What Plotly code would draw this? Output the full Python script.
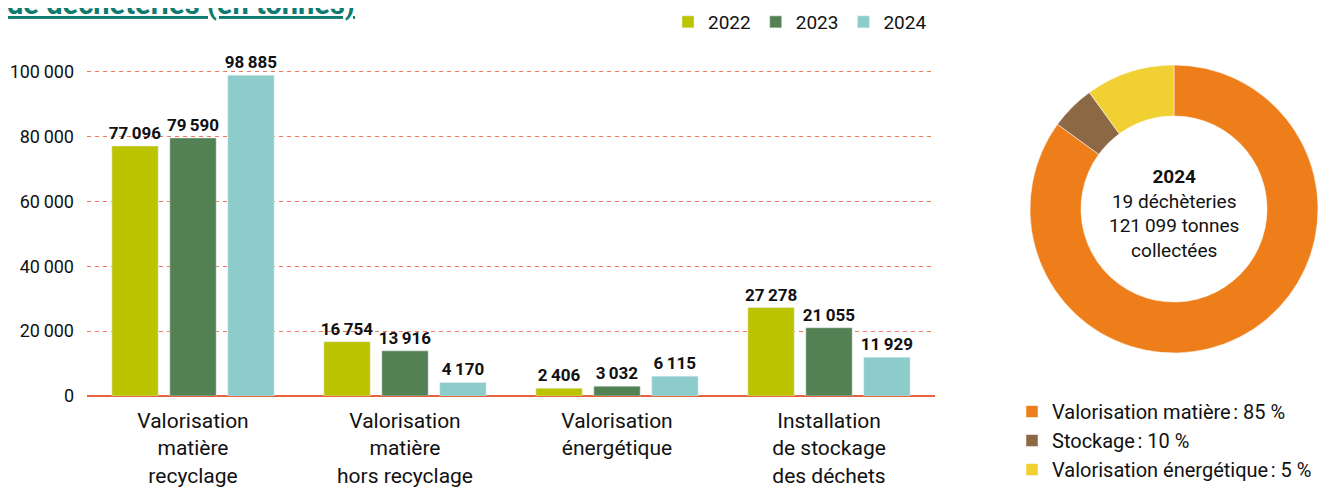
import plotly.graph_objects as go

# données
categories = ["Valorisation<br>matière<br>recyclage",
              "Valorisation<br>matière<br>hors recyclage",
              "Valorisation<br>énergétique",
              "Installation<br>de stockage<br>des déchets"]
annees = ["2022", "2023", "2024"]
val_2022 = [77096, 16754, 2406, 27278]
val_2023 = [79590, 13916, 3032, 21055]
val_2024 = [98885, 4170, 6115, 11929]

y_ticks = [0, 20000, 40000, 60000, 80000, 100000]
y_ticktext = ["0", "20\u2009000", "40\u2009000", "60\u2009000", "80\u2009000", "100\u2009000"]

pie_labels = ["Valorisation matière\u202f: 85 %", "Stockage\u202f: 10 %", "Valorisation énergétique\u202f: 5 %"]
pie_values = [85, 5, 10]  # parts telles que dessinées dans l'anneau

couleurs = ["#BCC400", "#548154", "#8CCCCA"]
couleurs_pie = ["#EE7E1A", "#8D6845", "#F0D032"]

W, H = 1332, 494
OFF = 8  # marge par défaut du <body>
FONT = "Roboto, Liberation Sans, sans-serif"


def fx(px):
    return (px - OFF) / W


def fy(py):
    return 1 - (py - OFF) / H


def fmt(v):
    return f"{v:,}".replace(",", "\u2009")


fig = go.Figure()

for annee, vals, c in zip(annees, [val_2022, val_2023, val_2024], couleurs):
    fig.add_trace(go.Bar(
        x=categories, y=vals, name=annee, marker_color=c,
        text=[fmt(v) for v in vals], textposition="outside", constraintext="none",
        textfont=dict(family=FONT, size=17, color="#111111", weight="bold"),
        cliponaxis=False, legend="legend",
    ))

fig.add_trace(go.Pie(
    labels=pie_labels, values=pie_values, hole=0.646, sort=False,
    direction="clockwise", rotation=0,
    marker=dict(colors=couleurs_pie, line=dict(color="white", width=0.5)),
    textinfo="none", hoverinfo="label",
    domain=dict(x=[fx(1030), fx(1318)], y=[fy(353), fy(65)]),
    legend="legend2",
))

fig.update_layout(
    width=W, height=H,
    margin=dict(l=0, r=0, t=0, b=0, autoexpand=False),
    paper_bgcolor="white", plot_bgcolor="white",
    font=dict(family=FONT, size=20, color="#111111"),
    barmode="group", bargap=0.18, bargroupgap=0.2,
    legend=dict(orientation="h", x=fx(932), xanchor="right", y=fy(22), yanchor="middle",
                font=dict(size=19), itemwidth=30, traceorder="normal"),
    legend2=dict(orientation="v", x=fx(1012), xanchor="left", y=fy(392), yanchor="top",
                 font=dict(size=20), itemwidth=30, tracegroupgap=0),
    annotations=[
        dict(text="<b><u>de déchèteries (en tonnes)</u></b>", xref="paper", yref="paper",
             x=fx(5), xanchor="left", y=fy(23), yanchor="bottom", showarrow=False,
             font=dict(size=29, color="#0F7A6E")),
        dict(text="<b>2024</b><br>19 déchèteries<br>121\u2009099 tonnes<br>collectées",
             xref="paper", yref="paper", x=fx(1174), y=fy(213),
             xanchor="center", yanchor="middle", showarrow=False,
             font=dict(size=19, color="#111111")),
    ],
)

fig.update_xaxes(domain=[fx(87), fx(935)], showgrid=False, showline=False,
                 ticks="", tickfont=dict(size=21), ticklabelstandoff=10, automargin=False)
fig.update_yaxes(domain=[fy(396), fy(62)], range=[0, 103000],
                 tickvals=y_ticks, ticktext=y_ticktext, tickfont=dict(size=18),
                 showgrid=True, gridcolor="#F0785A", griddash="4px,4px", gridwidth=1,
                 zeroline=True, zerolinecolor="#E8623F", zerolinewidth=2,
                 ticklabelstandoff=12, automargin=False)

fig.write_html("out.html")
